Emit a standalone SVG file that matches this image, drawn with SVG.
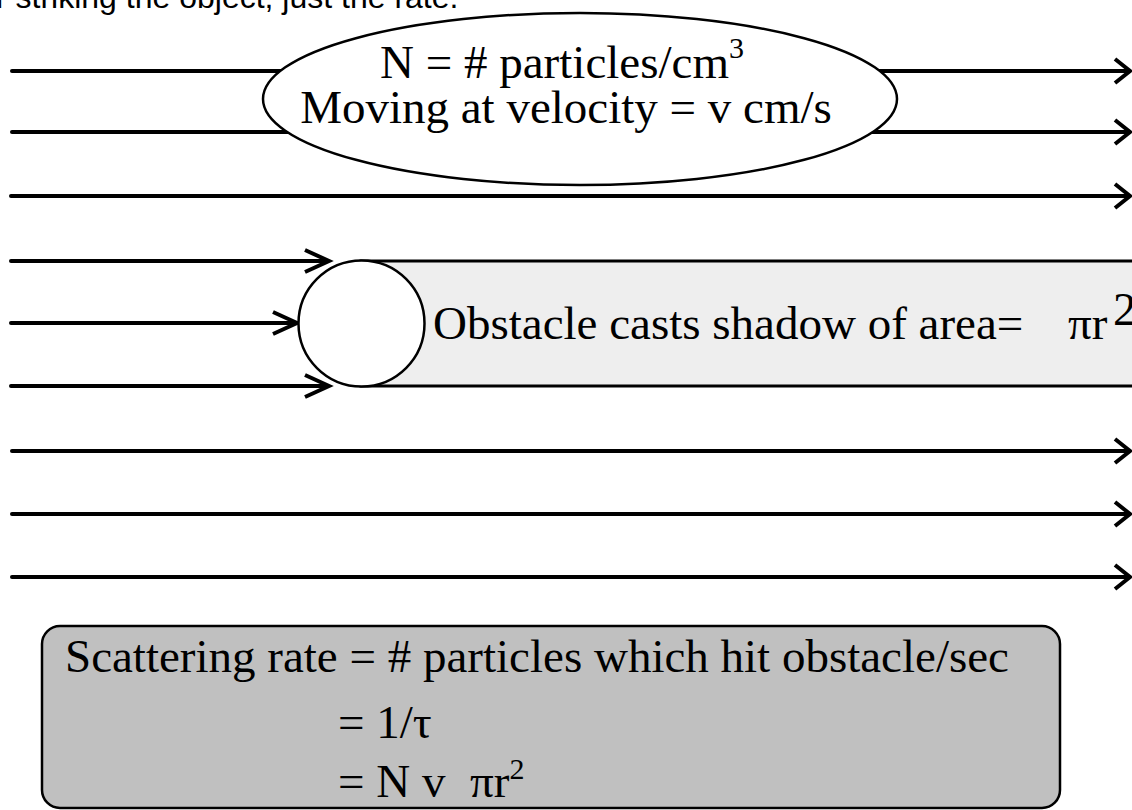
<svg xmlns="http://www.w3.org/2000/svg" width="1132" height="810" viewBox="0 0 1132 810">
<style>
.ln{stroke:#000;stroke-width:4;fill:none;stroke-linecap:round}
.ah{stroke:#000;stroke-width:4;fill:none;stroke-linejoin:miter}
.t{font-family:"Liberation Serif","Times New Roman",serif;font-size:47px;fill:#000}
.s{font-family:"Liberation Sans",Arial,sans-serif;fill:#000}
</style>
<rect width="1132" height="810" fill="#fff"/>
<text class="s" x="-4" y="8" font-size="32">r striking the object, just the rate.</text>
<g id="connectors">
<line class="ln" x1="12" y1="71" x2="1128" y2="71"/><polyline class="ah" points="1115,59 1130,71 1115,83"/>
<line class="ln" x1="12" y1="132" x2="1128" y2="132"/><polyline class="ah" points="1115,120 1130,132 1115,144"/>
<line class="ln" x1="11" y1="196" x2="1128" y2="196"/><polyline class="ah" points="1115,184 1130,196 1115,208"/>
<line class="ln" x1="11" y1="261" x2="326" y2="261"/><polyline class="ah" points="305,250 329,261 305,272"/>
<line class="ln" x1="11" y1="323" x2="294" y2="323"/><polyline class="ah" points="273,312 297,323 273,334"/>
<line class="ln" x1="11" y1="386" x2="326" y2="386"/><polyline class="ah" points="305,375 329,386 305,397"/>
<line class="ln" x1="12" y1="451" x2="1128" y2="451"/><polyline class="ah" points="1115,439 1130,451 1115,463"/>
<line class="ln" x1="12" y1="514" x2="1128" y2="514"/><polyline class="ah" points="1115,502 1130,514 1115,526"/>
<line class="ln" x1="12" y1="577" x2="1128" y2="577"/><polyline class="ah" points="1115,565 1130,577 1115,589"/>
</g>
<g id="flux">
<ellipse cx="580" cy="99" rx="317" ry="86" fill="#fff" stroke="#000" stroke-width="2.5"/>
<text class="t" x="562" y="78" text-anchor="middle">N = # particles/cm<tspan font-size="30" dy="-20">3</tspan></text>
<text class="t" x="566" y="123" text-anchor="middle">Moving at velocity = v cm/s</text>
</g>
<g id="shadow">
<rect x="361" y="261" width="790" height="125" fill="#eeeeee" stroke="#000" stroke-width="3"/>
<text class="t" x="433" y="339">Obstacle casts shadow of area=</text>
<text class="t" x="1068" y="339">πr</text>
<text class="t" x="1113" y="325" font-size="30">2</text>
</g>
<g id="obstacle">
<circle cx="361.5" cy="323.5" r="63" fill="#fff" stroke="#000" stroke-width="2.5"/>
</g>
<g id="result">
<rect x="42" y="626" width="1018" height="182" rx="18" fill="#c0c0c0" stroke="#000" stroke-width="2.5"/>
<text class="t" x="65" y="672">Scattering rate = # particles which hit obstacle/sec</text>
<text class="t" x="338" y="738">= 1/τ</text>
<text class="t" x="338" y="797">= N v<tspan x="470">πr</tspan><tspan font-size="30" dy="-18">2</tspan></text>
</g>
</svg>
